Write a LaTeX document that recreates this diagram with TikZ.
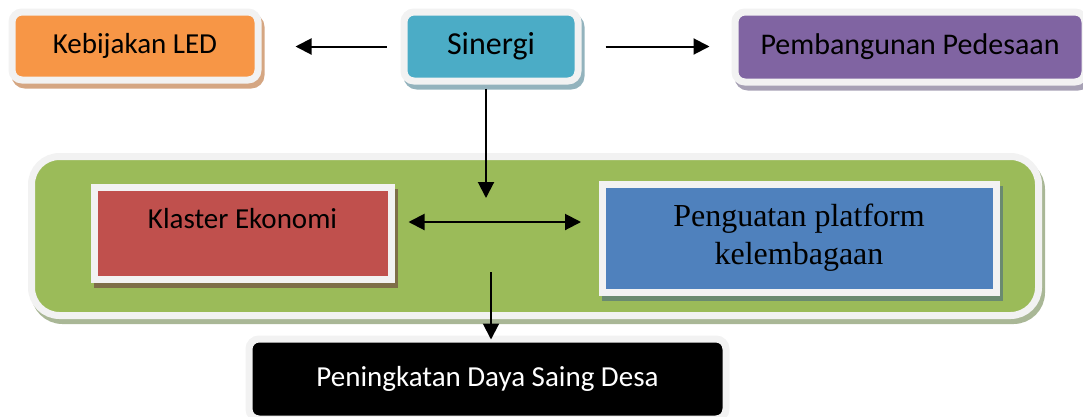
\documentclass[tikz,border=0pt]{standalone}
\usepackage{fontspec}
\setmainfont{Carlito}
\newfontfamily\serifTNR{Liberation Serif}
\usetikzlibrary{positioning,arrows.meta,calc}
\definecolor{cFrame}{HTML}{F2F2F2}
\definecolor{cLed}{HTML}{F79646}
\definecolor{cLedS}{HTML}{D5A682}
\definecolor{cSin}{HTML}{4BACC6}
\definecolor{cSinS}{HTML}{93B3BD}
\definecolor{cPem}{HTML}{8064A2}
\definecolor{cPemS}{HTML}{A7A1B5}
\definecolor{cGrn}{HTML}{9BBB59}
\definecolor{cGrnS}{HTML}{A9B796}
\definecolor{cKla}{HTML}{C0504D}
\definecolor{cKlaS}{HTML}{7E6E48}
\definecolor{cPlat}{HTML}{4F81BD}
\definecolor{cPlatS}{HTML}{6A8A70}

\begin{document}
\begin{tikzpicture}[x=1pt,y=-1pt,font=\fontsize{29}{35}\selectfont]
\tikzset{
 bx/.style={draw=cFrame,line width=7pt,rounded corners=10pt,inner sep=4pt},
 shd/.style={preaction={draw=#1,fill=#1,transform canvas={shift={(3pt,-5pt)}}}},
 ar/.style={line width=2pt,-{Triangle[length=16pt,width=16pt]}},
 dar/.style={line width=2pt,{Triangle[length=16pt,width=16pt]}-{Triangle[length=16pt,width=16pt]}}
}
\useasboundingbox (0,0) rectangle (1083,416);
% top row
\node[bx,fill=cLed,shd=cLedS,minimum width=246pt,minimum height=68pt] (led) at (135,46) {Kebijakan LED};
\node[bx,fill=cSin,shd=cSinS,minimum width=174pt,minimum height=69pt,font=\fontsize{32}{38}\selectfont] (sin) at (491,46.5) {Sinergi};
\node[bx,fill=cPem,shd=cPemS,minimum width=350pt,minimum height=70pt,font=\fontsize{30}{36}\selectfont] (pem) at (910,47) {Pembangunan Pedesaan};
% green group
\node[bx,fill=cGrn,shd=cGrnS,rounded corners=28pt,minimum width=1007pt,minimum height=159pt] (grp) at (535,236) {};
\node[bx,sharp corners,fill=cKla,shd=cKlaS,minimum width=297pt,minimum height=92pt,text height=18pt,text depth=28pt] (kla) at (242.5,233) {Klaster Ekonomi};
\node[bx,sharp corners,fill=cPlat,shd=cPlatS,minimum width=394pt,minimum height=108pt,align=center,font=\serifTNR\fontsize{32}{38}\selectfont] (plat) at (799,238) {Penguatan platform\\kelembagaan};
% result
\node[bx,fill=black,text=white,minimum width=477pt,minimum height=80pt] (saing) at (487.5,379) {Peningkatan Daya Saing Desa};

\coordinate (hub) at (486,222);
\coordinate (low) at (491,272);
\draw[ar,shorten <=14pt,shorten >=34pt] (sin.west) -- (sin.west -| led.east);
\draw[ar,shorten <=24pt,shorten >=22pt] (sin.east) -- (sin.east -| pem.west);
\draw[ar,shorten <=4pt,shorten >=24pt] (sin.south -| hub) -- (hub);
\draw[dar,shorten <=14pt,shorten >=17.5pt] (kla.east |- hub) -- (plat.west |- hub);
\draw[ar,shorten >=-4pt] (low) -- (low |- saing.north);
\end{tikzpicture}
\end{document}
